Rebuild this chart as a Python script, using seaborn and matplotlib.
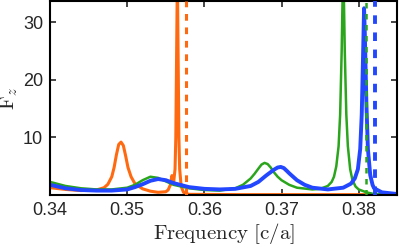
import numpy as np
import pandas as pd
import seaborn as sns
import matplotlib
matplotlib.use('Agg')
import matplotlib.pyplot as plt

# spectra (frequency in c/a, F_z)
orange_f = [0.340, 0.342, 0.344, 0.346, 0.347, 0.3475, 0.348, 0.3483, 0.3486, 0.3489,
            0.3492, 0.3495, 0.3498, 0.3501, 0.3505, 0.351, 0.352, 0.353, 0.354, 0.355,
            0.3553, 0.3556, 0.3558, 0.3560, 0.3562, 0.3563, 0.3564, 0.3565, 0.3566, 0.3567,
            0.3568, 0.3570, 0.3573, 0.358, 0.365, 0.375, 0.385]
orange_v = [1.3, 1.0, 0.8, 0.9, 1.3, 1.9, 3.2, 4.8, 7.0, 8.8,
            9.2, 8.6, 6.8, 4.8, 3.2, 2.0, 1.1, 0.7, 0.5, 0.6,
            0.9, 1.8, 3.4, 2.0, 4.5, 10.0, 24.0, 38.0, 24.0, 10.0,
            4.5, 1.5, 0.5, 0.15, 0.1, 0.1, 0.1]

green_f = [0.340, 0.342, 0.344, 0.346, 0.348, 0.350, 0.351, 0.352, 0.353, 0.354,
           0.355, 0.356, 0.358, 0.360, 0.362, 0.364, 0.365, 0.366, 0.3665, 0.367,
           0.3674, 0.3678, 0.3682, 0.3686, 0.369, 0.3695, 0.370, 0.371, 0.372, 0.374,
           0.375, 0.376, 0.3765, 0.3768, 0.3771, 0.3774, 0.3776, 0.3778, 0.3779, 0.3780,
           0.3781, 0.3782, 0.3784, 0.3786, 0.3789, 0.3792, 0.3796, 0.380, 0.381, 0.382,
           0.385]
green_v = [2.3, 1.6, 1.2, 1.0, 1.0, 1.3, 1.8, 2.6, 3.2, 3.0,
           2.4, 1.8, 1.2, 0.9, 0.8, 1.2, 1.8, 2.9, 3.7, 4.6,
           5.3, 5.6, 5.4, 4.8, 4.0, 3.2, 2.6, 1.8, 1.3, 1.0,
           1.1, 1.6, 2.3, 3.2, 5.0, 8.5, 14.0, 25.0, 33.0, 38.0,
           33.0, 25.0, 14.0, 8.5, 4.5, 2.6, 1.5, 1.0, 0.5, 0.2,
           0.2]

blue_f = [0.340, 0.342, 0.344, 0.346, 0.348, 0.350, 0.351, 0.352, 0.353, 0.354,
          0.355, 0.356, 0.358, 0.360, 0.362, 0.364, 0.366, 0.367, 0.368, 0.369,
          0.3695, 0.3699, 0.3703, 0.3707, 0.371, 0.372, 0.373, 0.374, 0.376, 0.378,
          0.379, 0.3795, 0.3799, 0.3802, 0.3804, 0.3806, 0.3807, 0.3808, 0.3810, 0.3812,
          0.3815, 0.3818, 0.382, 0.383, 0.385]
blue_v = [1.8, 1.2, 0.9, 0.8, 0.8, 1.0, 1.4, 1.9, 2.5, 2.8,
          2.6, 2.1, 1.4, 1.1, 1.0, 1.1, 1.6, 2.3, 3.4, 4.4,
          4.8, 4.9, 4.7, 4.2, 3.8, 2.6, 1.8, 1.3, 1.0, 1.3,
          2.0, 2.9, 4.5, 8.0, 14.0, 26.0, 32.4, 28.0, 16.0, 8.0,
          3.5, 1.8, 1.2, 0.5, 0.2]

# dashed markers
mode_names = ['orange', 'green', 'blue']
mode_freq = [0.3576, 0.3810, 0.3821]

colors = {'orange': '#ff6a10', 'green': '#2aa51c', 'blue': '#2346ff'}
widths = {'orange': 2.2, 'green': 1.8, 'blue': 2.8}

sns.set_style('ticks')
plt.rcParams['font.family'] = ['Liberation Sans', 'DejaVu Sans']
plt.rcParams['mathtext.fontset'] = 'cm'

df = pd.concat([
    pd.DataFrame({'f': orange_f, 'v': orange_v, 'c': 'orange'}),
    pd.DataFrame({'f': green_f, 'v': green_v, 'c': 'green'}),
    pd.DataFrame({'f': blue_f, 'v': blue_v, 'c': 'blue'}),
])

fig = plt.figure(figsize=(4.07, 2.44), dpi=100)
ax = fig.add_axes([0.123, 0.2, 0.853, 0.797])

for name in ['orange', 'green', 'blue']:
    sub = df[df['c'] == name]
    sns.lineplot(data=sub, x='f', y='v', ax=ax, color=colors[name],
                 linewidth=widths[name], sort=False, estimator=None)

for name, f0 in zip(mode_names, mode_freq):
    ax.axvline(f0, color=colors[name], linestyle=(0, (2.2, 2.2)),
               linewidth=widths[name], zorder=4)

ax.set_xlim(0.34, 0.385)
ax.set_ylim(0, 33.7)
ax.set_xticks([0.34, 0.35, 0.36, 0.37, 0.38])
ax.set_xticklabels(['0.34', '0.35', '0.36', '0.37', '0.38'])
ax.set_yticks([10, 20, 30])
ax.tick_params(direction='in', top=True, right=True, length=4, width=1.2,
               labelsize=13, pad=5)
for s in ax.spines.values():
    s.set_linewidth(1.5)
    s.set_color('black')

ax.set_xlabel(r'$\mathrm{Frequency\ [c/a]}$', fontsize=15, labelpad=1)
ax.set_ylabel(r'$\mathrm{F}_z$', fontsize=15, labelpad=2)

fig.savefig('out.png', dpi=100)
